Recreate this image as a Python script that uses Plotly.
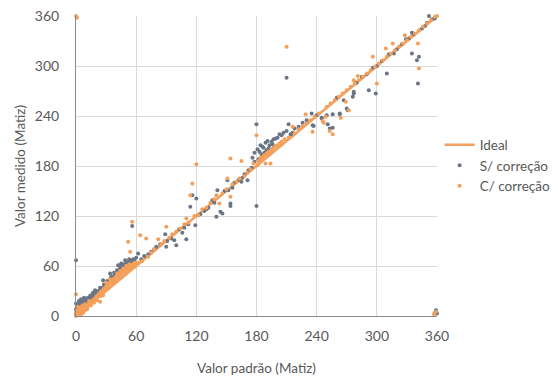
import plotly.graph_objects as go

# Ideal line (reference y = x)
ideal_x = [0, 360]
ideal_y = [0, 360]

# S/ correção (uncorrected) points: (standard value, measured value)
s_low = [(0,2),(0,8),(0,15),(0,67),(1,5),(1,12),(2,3),(2,10),(3,6),(3,14),(4,8),(4,16),(5,9),(5,13),
         (6,11),(6,18),(7,12),(7,17),(8,13),(8,19),(9,15),(9,11),(10,16),(10,20),(11,17),(12,18),(12,22),
         (13,19),(14,21),(15,23),(15,25),(16,22),(17,25),(18,24),(19,27),(19,31),(20,26),(21,29),(22,28),
         (23,30),(24,31),(25,32),(26,33),(27,34),(27,43),(28,36),(29,36),(30,37),(31,39),(32,40),(33,41),
         (34,44),(34,51),(35,43),(36,46),(37,47),(38,48),(39,50),(40,50),(41,52),(42,54),(42,61),(43,55),
         (44,56),(45,57),(45,63),(46,58),(47,59),(48,60),(49,60),(49,67),(50,62),(51,63),(52,64),(53,64),
         (54,66),(54,67),(55,65),(56,66),(56,108),(57,68),(58,67),(60,70),(62,75),
         (3,18),(5,20),(8,22),(11,21),(14,24),(17,28),(20,30),(24,34),(28,38),(31,42),(35,47),(38,52),
         (41,55),(44,59),(47,62),(50,65),(53,68)]
s_mid = [(65,68),(68,72),(72,74),(75,77),(78,80),(80,83),(84,86),(89,98),(90,83),(91,90),(95,93),(98,91),
         (100,85),(103,104),(106,100),(108,106),(110,92),(112,110),(114,131),(116,145),(119,109),(120,141),
         (122,121),(124,122),(128,126),(130,128),(132,130),(136,139),(138,136),(140,119),(141,151),(144,125),
         (146,123),(148,150),(151,163),(152,151),(154,132),(154,135),(156,154),(158,160),(162,163),(165,161),
         (166,166),(168,170),(171,163),(172,175),(175,178),(176,190),(178,185),(178,196),(180,230),(180,132)]
s_high = [(181,200),(182,188),(183,197),(184,205),(185,194),(186,203),(187,202),(188,196),(189,208),(190,199),
          (191,210),(192,201),(193,205),(195,209),(196,206),(197,212),(199,213),(201,214),(203,218),(205,217),
          (207,220),(210,222),(210,286),(212,230),(214,218),(216,220),(218,225),(222,227),(226,232),(230,235),
          (235,243),(236,229),(237,228),(240,241),(245,238),(245,237),(250,241),(251,230),(253,225),(256,226),
          (256,242),(260,262),(263,243),(263,242),(267,259),(270,249),(271,247),(276,263),(277,267),(277,269),
          (280,280),(285,287),(290,290),(292,271),(296,298),(299,267),(300,300),(305,306),(310,291),(312,314),
          (317,315),(320,320),(325,326),(329,332),(332,333),(335,340),(335,315),(337,338),(340,307),(341,279),
          (342,311),(345,345),(348,348),(350,352),(352,360),(355,356),(358,357),(358,4),(359,7),(360,3)]

# C/ correção (corrected) points
c_low = [(0,0),(0,3),(0,6),(0,26),(0,360),(1,358),(1,1),(1,5),(2,2),(2,7),(3,3),(3,8),(4,4),(4,9),(5,5),
         (5,10),(6,6),(6,3),(7,8),(7,4),(8,9),(8,6),(9,10),(9,7),(10,12),(10,8),(11,12),(12,14),(12,11),
         (13,14),(14,15),(15,17),(16,17),(17,19),(18,20),(19,21),(20,23),(21,24),(22,25),(23,27),(24,17),
         (24,27),(25,29),(26,30),(27,25),(27,31),(28,33),(29,33),(30,35),(31,36),(32,37),(33,39),(34,40),
         (35,41),(36,42),(37,43),(38,45),(39,46),(40,47),(41,48),(42,49),(43,50),(44,51),(45,52),(46,53),
         (47,54),(48,55),(49,55),(50,57),(51,58),(52,58),(52,89),(53,59),(54,60),(54,77),(55,61),(56,61),
         (56,113),(57,62),(58,63),(59,64),(60,64),
         (2,11),(4,1),(6,12),(9,14),(11,8),(13,18),(15,13),(18,16),(21,19),(25,24),(28,30),(30,40),
         (32,33),(34,44),(36,38),(38,41),(40,43),(41,51),(43,46),(44,54),(46,49),(47,57),(49,52),(50,60),
         (52,55),(53,62),(55,57),(57,60),(58,59)]
c_mid = [(62,64),(64,97),(66,66),(70,93),(72,71),(75,76),(78,80),(82,92),(85,86),(88,90),(90,107),(93,94),
         (96,98),(100,101),(104,105),(108,110),(110,117),(112,112),(114,145),(116,159),(118,120),(120,182),
         (122,121),(126,128),(130,130),(134,136),(138,140),(140,145),(143,135),(146,147),(150,152),(151,165),
         (154,143),(154,189),(156,158),(160,161),(163,165),(165,186),(168,168),(171,172),(174,176),(177,183),
         (180,217)]
c_high = [(181,181),(182,186),(183,185),(184,190),(185,188),(186,189),(187,192),(188,193),(189,183),(190,195),
          (191,194),(192,197),(193,196),(194,183),(195,200),(196,198),(197,202),(199,204),(201,205),(203,207),
          (205,209),(208,212),(210,323),(212,214),(216,227),(218,219),(222,224),(226,228),(229,242),(230,231),
          (234,235),(236,221),(238,239),(242,243),(246,234),(247,232),(249,239),(250,251),(253,222),(254,255),
          (256,218),(258,259),(262,263),(264,238),(266,267),(269,257),(270,271),(272,247),(274,275),(277,283),
          (278,279),(281,288),(282,283),(286,287),(290,291),(294,295),(296,311),(298,299),(300,279),(302,303),
          (306,307),(309,321),(310,311),(314,315),(316,327),(318,319),(322,323),(326,327),(328,337),(330,331),
          (334,335),(338,339),(341,327),(342,297),(342,343),(346,347),(350,351),(354,355),(358,359),(360,360),
          (357,2),(359,5)]

tick_vals = [0, 60, 120, 180, 240, 300, 360]

s_pts = s_low + s_mid + s_high
c_pts = c_low + c_mid + c_high
s_x = [p[0] for p in s_pts]; s_y = [p[1] for p in s_pts]
c_x = [p[0] for p in c_pts]; c_y = [p[1] for p in c_pts]

FONT = "Lato, 'Open Sans', sans-serif"
TXT = "#595959"

fig = go.Figure()
fig.add_trace(go.Scatter(x=ideal_x, y=ideal_y, mode="lines", name="Ideal",
                         line=dict(color="#F0A060", width=2.5), cliponaxis=False))
fig.add_trace(go.Scatter(x=s_x, y=s_y, mode="markers", name="S/ correção",
                         marker=dict(color="#6A7585", size=4), cliponaxis=False))
fig.add_trace(go.Scatter(x=c_x, y=c_y, mode="markers", name="C/ correção",
                         marker=dict(color="#F4A05A", size=4), cliponaxis=False))

axis_common = dict(range=[0, 360], tickvals=tick_vals, showgrid=True, gridcolor="#D9D9D9", gridwidth=1,
                   showline=True, linecolor="#8C8C8C", linewidth=1, zeroline=False, automargin=False,
                   ticks="outside", tickcolor="rgba(0,0,0,0)",
                   tickfont=dict(family=FONT, size=14, color=TXT))
fig.update_xaxes(**axis_common, ticklen=7,
                 title=dict(text="Valor padrão (Matiz)", font=dict(family=FONT, size=13.5, color=TXT), standoff=20))
fig.update_yaxes(**axis_common, ticklen=13,
                 title=dict(text="Valor medido (Matiz)", font=dict(family=FONT, size=13.5, color=TXT), standoff=6))

fig.update_layout(
    width=553, height=376,
    margin=dict(l=76, r=116, t=16, b=60, autoexpand=False),
    plot_bgcolor="white", paper_bgcolor="white",
    font=dict(family=FONT, color=TXT),
    legend=dict(xref="container", yref="container", x=0.795, y=0.56, xanchor="left", yanchor="middle",
                font=dict(family=FONT, size=13.5, color=TXT), tracegroupgap=0, itemwidth=30,
                bgcolor="rgba(0,0,0,0)"),
)

fig.write_html("out.html")
